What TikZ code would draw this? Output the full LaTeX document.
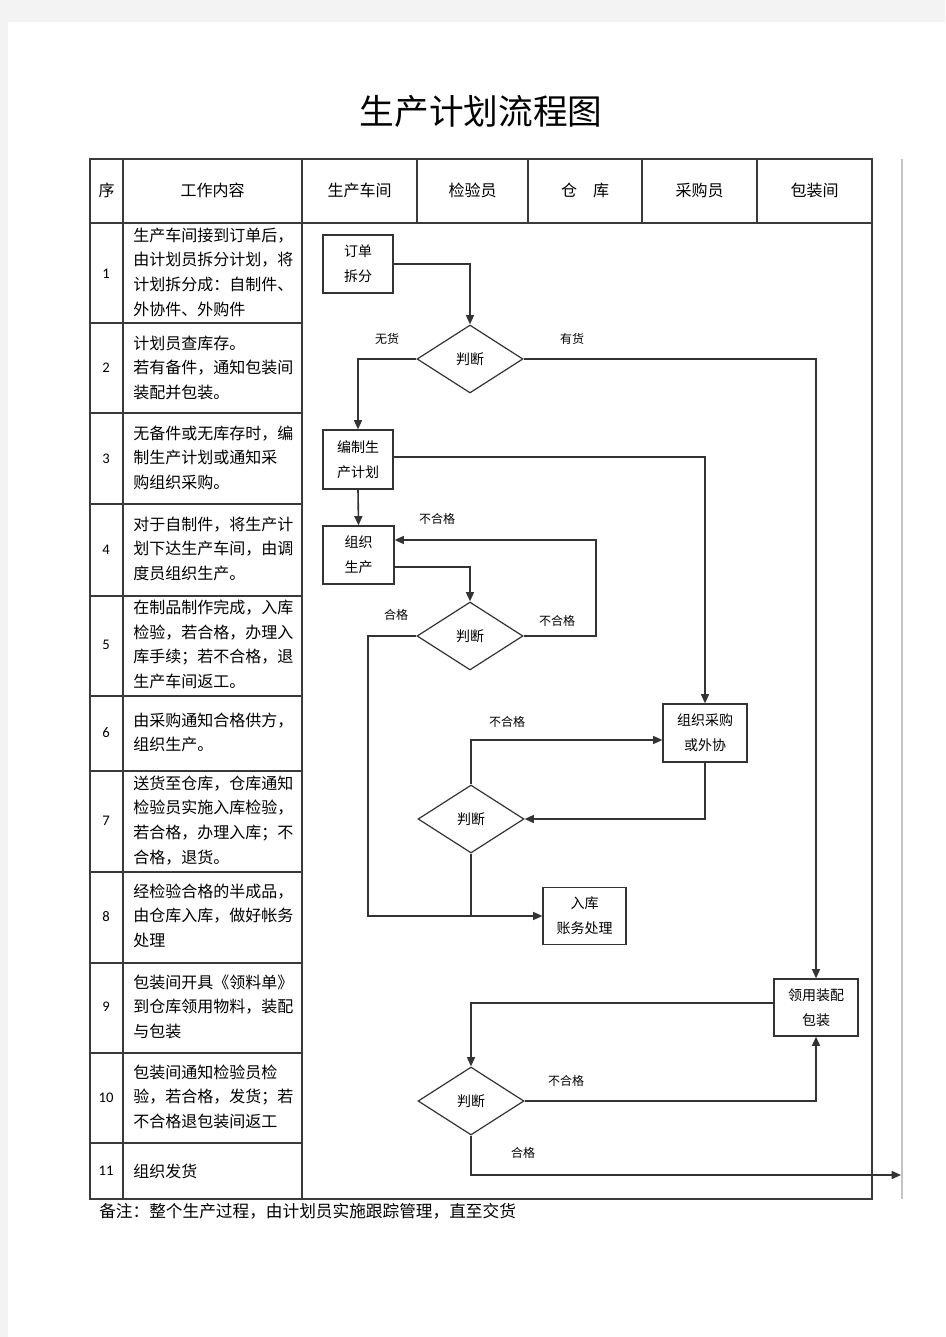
\documentclass[tikz,border=0pt]{standalone}
\usepackage{fontspec}
\setmainfont{Noto Sans CJK SC}
\newfontfamily\numfont{Carlito}
\usetikzlibrary{arrows.meta,shapes.geometric}
\definecolor{pagegray}{HTML}{F3F3F3}
\definecolor{tline}{HTML}{3A3A3A}
\definecolor{fline}{HTML}{333333}
\definecolor{faint}{HTML}{C4C4C4}
\begin{document}
\begin{tikzpicture}[x=0.75pt,y=-0.75pt,
  tab/.style={draw=tline,line width=1pt},
  flow/.style={draw=fline,line width=1.2pt},
  arr/.style={flow,-{Triangle[length=7pt,width=6pt]}},
  box/.style={draw=fline,line width=0.9pt,fill=white,minimum height=43.5pt,inner sep=0pt,align=center,font=\fontsize{10.5pt}{18.75pt}\selectfont},
  dia/.style={diamond,draw=fline,line width=0.9pt,fill=white,minimum width=79.5pt,minimum height=51pt,inner sep=0pt,font=\fontsize{10.5pt}{12pt}\selectfont},
  lbl/.style={font=\fontsize{9pt}{10pt}\selectfont,inner sep=0pt},
  head/.style={font=\fontsize{12pt}{14pt}\selectfont,inner sep=0pt},
  desc/.style={font=\fontsize{12pt}{18.5pt}\selectfont,align=left,anchor=north west,inner sep=0pt},
  num/.style={font=\numfont\fontsize{11pt}{12pt}\selectfont,inner sep=0pt}
]
% page
\fill[pagegray] (0,0) rectangle (945,1337);
\fill[white] (8,22) rectangle (945,1337);
\useasboundingbox (0,0) rectangle (945,1337);

% title
\node[font=\fontsize{26pt}{28pt}\selectfont,inner sep=0pt] (title) at (481,111) {生产计划流程图};

% table grid
\draw[tab] (90,159) rectangle (872,1199);
\draw[tab] (90,223) -- (872,223);
\foreach \x in {123,302} \draw[tab] (\x,159) -- (\x,1199);
\foreach \x in {417,528,642,757} \draw[tab] (\x,159) -- (\x,223);
\foreach \y in {323,413,504,596,696,771,872,963,1053,1143} \draw[tab] (90,\y) -- (302,\y);
\draw[faint,line width=0.9pt] (902,159) -- (902,1199);

% header
\node[head] (h0) at (106.5,190) {序};
\node[head] (h1) at (212.5,190) {工作内容};
\node[head] (h2) at (359.5,190) {生产车间};
\node[head] (h3) at (472.5,190) {检验员};
\node[head] (h4) at (585,190) {仓　库};
\node[head] (h5) at (699.5,190) {采购员};
\node[head] (h6) at (814.5,190) {包装间};

% row numbers
\node[num] (n1) at (106,274) {1};
\node[num] (n2) at (106,368) {2};
\node[num] (n3) at (106,459) {3};
\node[num] (n4) at (106,550) {4};
\node[num] (n5) at (106,645) {5};
\node[num] (n6) at (106,733) {6};
\node[num] (n7) at (106,821) {7};
\node[num] (n8) at (106,917) {8};
\node[num] (n9) at (106,1007) {9};
\node[num] (n10) at (106,1098) {10};
\node[num] (n11) at (106,1171) {11};

% descriptions
\node[desc] (t1) at (133,227.5) {生产车间接到订单后，\\由计划员拆分计划，将\\计划拆分成：自制件、\\外协件、外购件};
\node[desc] (t2) at (133,335.5) {计划员查库存。\\若有备件，通知包装间\\装配并包装。};
\node[desc] (t3) at (133,425.5) {无备件或无库存时，编\\制生产计划或通知采\\购组织采购。};
\node[desc] (t4) at (133,516.5) {对于自制件，将生产计\\划下达生产车间，由调\\度员组织生产。};
\node[desc] (t5) at (133,599.5) {在制品制作完成，入库\\检验，若合格，办理入\\库手续；若不合格，退\\生产车间返工。};
\node[desc] (t6) at (133,712.5) {由采购通知合格供方，\\组织生产。};
\node[desc] (t7) at (133,775.5) {送货至仓库，仓库通知\\检验员实施入库检验，\\若合格，办理入库；不\\合格，退货。};
\node[desc] (t8) at (133,883.5) {经检验合格的半成品，\\由仓库入库，做好帐务\\处理};
\node[desc] (t9) at (133,974.5) {包装间开具《领料单》\\到仓库领用物料，装配\\与包装};
\node[desc] (t10) at (133,1064.5) {包装间通知检验员检\\验，若合格，发货；若\\不合格退包装间返工};
\node[desc] (t11) at (133,1163.5) {组织发货};

% flow nodes
\node[box,minimum width=52.5pt] (a1) at (358,264) {订单\\拆分};
\node[box,minimum width=52.5pt,minimum height=44.25pt] (a2) at (358,459.5) {编制生\\产计划};
\node[box,minimum width=53.25pt] (a3) at (358.5,555) {组织\\生产};
\node[box,minimum width=63pt] (a4) at (705,733) {组织采购\\或外协};
\node[box,minimum width=62.25pt,minimum height=42.75pt] (a5) at (584.5,916) {入库\\账务处理};
\node[box,minimum width=63pt,minimum height=42.75pt] (a6) at (816,1007.5) {领用装配\\包装};

\node[dia] (d1) at (470,359) {判断};
\node[dia] (d2) at (470,636) {判断};
\node[dia] (d3) at (471,819) {判断};
\node[dia] (d4) at (471,1101) {判断};

\coordinate (c1) at (596,540);
\coordinate (c2) at (368,916);
\coordinate (c3) at (901,1175);

% connectors
\draw[arr] (a1.east) -| (d1.north);
\draw[arr] (d1.west) -| (a2.north);
\draw[arr] (d1.east) -| (a6.north);
\draw[arr] ([yshift=1.9pt]a2.east) -| (a4.north);
\draw[arr] (a2.south) -- (a3.north);
\draw[arr] ([yshift=-9pt]a3.east) -| (d2.north);
\draw[arr] (d2.east) -| (c1) -- (c1 -| a3.east);
\draw[arr] (d2.west) -| (c2) -- (a5.west);
\draw[arr] (a4.south) |- (d3.east);
\draw[arr] (d3.north) |- ([yshift=-5.25pt]a4.west);
\draw[flow] (d3.south) -- (d3.south |- c2);
\draw[arr] ([yshift=3.4pt]a6.west) -| (d4.north);
\draw[arr] (d4.east) -| (a6.south);
\draw[arr] (d4.south) |- (c3);

% labels
\node[lbl] (l1) at (387,339) {无货};
\node[lbl] (l2) at (572,339) {有货};
\node[lbl] (l3) at (437,519) {不合格};
\node[lbl] (l4) at (396,615) {合格};
\node[lbl] (l5) at (557,621) {不合格};
\node[lbl] (l6) at (507,722) {不合格};
\node[lbl] (l7) at (566,1081) {不合格};
\node[lbl] (l8) at (523,1153) {合格};

% note
\node[font=\fontsize{12.5pt}{14pt}\selectfont,anchor=west,inner sep=0pt] (note) at (99,1211) {备注：整个生产过程，由计划员实施跟踪管理，直至交货};
\end{tikzpicture}
\end{document}
